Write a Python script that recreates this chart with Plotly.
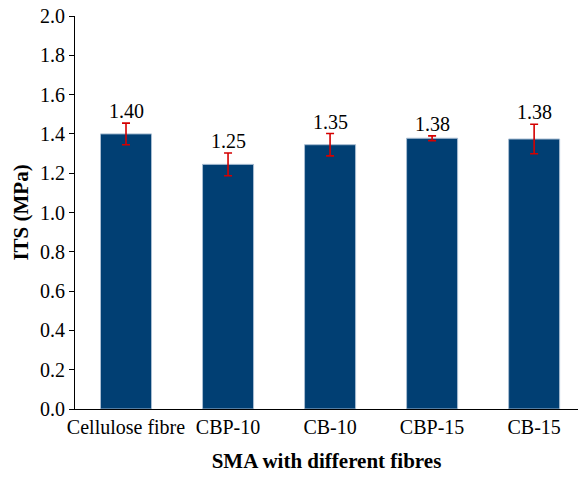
import plotly.graph_objects as go

categories = ["Cellulose fibre", "CBP-10", "CB-10", "CBP-15", "CB-15"]
its_values = [1.40, 1.245, 1.345, 1.378, 1.374]
its_errors = [0.055, 0.058, 0.057, 0.012, 0.075]
value_labels = ["1.40", "1.25", "1.35", "1.38", "1.38"]
y_ticks = [0.0, 0.2, 0.4, 0.6, 0.8, 1.0, 1.2, 1.4, 1.6, 1.8, 2.0]

FONT = "Liberation Serif"

fig = go.Figure()
fig.add_trace(go.Bar(
    x=list(range(len(categories))),
    y=its_values,
    marker=dict(color="#013f73", line=dict(color="#a9bdd2", width=1)),
    error_y=dict(type="data", array=its_errors, visible=True,
                 color="#d40000", thickness=1.6, width=4),
    width=0.5,
))

for i, (v, e, lab) in enumerate(zip(its_values, its_errors, value_labels)):
    fig.add_annotation(x=i, y=v + e, text=lab, showarrow=False,
                       yanchor="bottom", yshift=-1,
                       font=dict(family=FONT, size=20, color="black"))

fig.update_layout(
    width=578, height=480,
    margin=dict(l=75, r=0, t=16, b=71),
    paper_bgcolor="white", plot_bgcolor="white",
    showlegend=False,
    font=dict(family=FONT, size=20, color="black"),
    xaxis=dict(
        tickmode="array", tickvals=list(range(len(categories))), ticktext=categories,
        range=[-0.5, 4.43], showline=True, linecolor="black", linewidth=1,
        ticks="", showgrid=False, zeroline=False,
        tickfont=dict(family=FONT, size=20, color="black"),
        title=dict(text="<b>SMA with different fibres</b>", standoff=16,
                   font=dict(family=FONT, size=21, color="black")),
    ),
    yaxis=dict(
        range=[0, 2.0], tickvals=y_ticks, tickformat=".1f",
        showline=True, linecolor="black", linewidth=1,
        ticks="outside", ticklen=5, tickcolor="black",
        showgrid=False, zeroline=False,
        tickfont=dict(family=FONT, size=20, color="black"),
        title=dict(text="<b>ITS (MPa)</b>", standoff=5,
                   font=dict(family=FONT, size=21, color="black")),
    ),
)

fig.write_html("out.html")
